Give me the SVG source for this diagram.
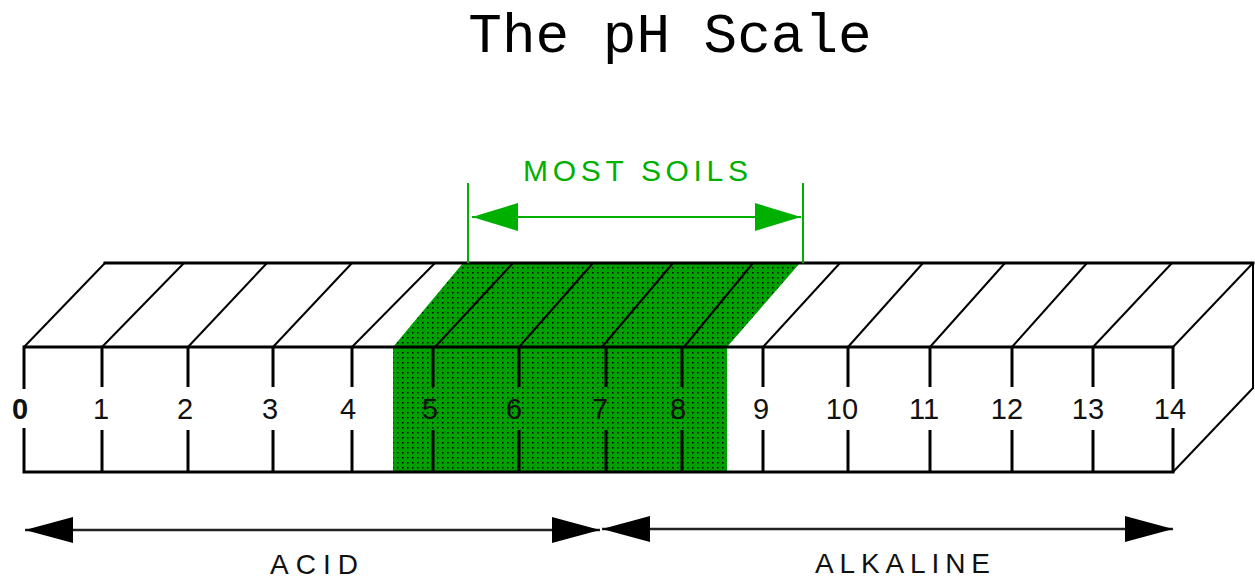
<svg xmlns="http://www.w3.org/2000/svg" width="1255" height="578" viewBox="0 0 1255 578">
  <defs>
    <pattern id="dots" width="5" height="5" patternUnits="userSpaceOnUse">
      <rect width="5" height="5" fill="#00a000"/>
      <rect x="2" y="2" width="1.5" height="1.5" fill="#000"/>
    </pattern>
    <marker id="ah" viewBox="0 0 48 26" refX="48" refY="13" markerWidth="48" markerHeight="26" markerUnits="userSpaceOnUse" orient="auto-start-reverse">
      <path d="M0,0 L48,13 L0,26 z" fill="#000"/>
    </marker>
    <marker id="gah" viewBox="0 0 46 28" refX="46" refY="14" markerWidth="46" markerHeight="28" markerUnits="userSpaceOnUse" orient="auto-start-reverse">
      <path d="M0,0 L46,14 L0,28 z" fill="#00b000"/>
    </marker>
  </defs>
  <style>
    .edge { fill: none; stroke: #000; stroke-width: 3; stroke-linecap: square; }
    .diag { fill: none; stroke: #000; stroke-width: 2; }
    .tick { stroke: #000; stroke-width: 3; }
    .num { font-family: "Liberation Sans", Arial, sans-serif; font-size: 29px; fill: #111; text-anchor: middle; }
    .lbl { font-family: "Liberation Sans", Arial, sans-serif; font-size: 28px; fill: #111; }
    .gline { stroke: #00b000; stroke-width: 2; fill: none; }
    .arrow { stroke: #222; stroke-width: 2.5; fill: none; }
  </style>

  <rect width="1255" height="578" fill="#fff"/>

  <g id="title">
    <text x="670" y="52" font-family="'Liberation Mono', 'Courier New', monospace" font-size="56" text-anchor="middle" fill="#000">The pH Scale</text>
  </g>

  <g id="most-soils-band">
    <polygon points="393,347 463,263 800,263 727,347" fill="url(#dots)"/>
    <rect x="393" y="347" width="334" height="125" fill="url(#dots)"/>
  </g>

  <g id="scale-bar">
    <g class="diag">
      <line x1="24" y1="347" x2="105" y2="263"/>
      <line x1="102" y1="347" x2="184" y2="263"/>
      <line x1="188" y1="347" x2="267" y2="263"/>
      <line x1="273" y1="347" x2="352" y2="263"/>
      <line x1="352" y1="347" x2="435" y2="263"/>
      <line x1="435" y1="347" x2="513" y2="263"/>
      <line x1="519" y1="347" x2="593" y2="263"/>
      <line x1="602" y1="347" x2="673" y2="263"/>
      <line x1="684" y1="347" x2="753" y2="263"/>
      <line x1="763" y1="347" x2="840" y2="263"/>
      <line x1="848" y1="347" x2="923" y2="263"/>
      <line x1="930" y1="347" x2="1005" y2="263"/>
      <line x1="1012" y1="347" x2="1087" y2="263"/>
      <line x1="1093" y1="347" x2="1172" y2="263"/>
      <line x1="1173" y1="347" x2="1253" y2="263"/>
      <line x1="1173" y1="472" x2="1253" y2="388"/>
    </g>
    <line class="edge" x1="105" y1="263" x2="1253" y2="263"/>
    <line class="edge" x1="1253" y1="263" x2="1253" y2="388" style="stroke-width:2"/>
    <rect class="edge" x="24" y="347" width="1149" height="125"/>
    <g class="tick">
      <line x1="102" y1="347" x2="102" y2="387"/><line x1="102" y1="430" x2="102" y2="472"/>
      <line x1="188" y1="347" x2="188" y2="387"/><line x1="188" y1="430" x2="188" y2="472"/>
      <line x1="273" y1="347" x2="273" y2="387"/><line x1="273" y1="430" x2="273" y2="472"/>
      <line x1="352" y1="347" x2="352" y2="387"/><line x1="352" y1="430" x2="352" y2="472"/>
      <line x1="433" y1="347" x2="433" y2="387"/><line x1="433" y1="430" x2="433" y2="472"/>
      <line x1="519" y1="347" x2="519" y2="387"/><line x1="519" y1="430" x2="519" y2="472"/>
      <line x1="606" y1="347" x2="606" y2="387"/><line x1="606" y1="430" x2="606" y2="472"/>
      <line x1="682" y1="347" x2="682" y2="387"/><line x1="682" y1="430" x2="682" y2="472"/>
      <line x1="763" y1="347" x2="763" y2="387"/><line x1="763" y1="430" x2="763" y2="472"/>
      <line x1="848" y1="347" x2="848" y2="387"/><line x1="848" y1="430" x2="848" y2="472"/>
      <line x1="930" y1="347" x2="930" y2="387"/><line x1="930" y1="430" x2="930" y2="472"/>
      <line x1="1012" y1="347" x2="1012" y2="387"/><line x1="1012" y1="430" x2="1012" y2="472"/>
      <line x1="1093" y1="347" x2="1093" y2="387"/><line x1="1093" y1="430" x2="1093" y2="472"/>
    </g>
    <rect x="18" y="389" width="12" height="39" fill="#fff"/>
    <rect x="1167" y="389" width="12" height="39" fill="#fff"/>
    <text class="num" x="20" y="419" font-weight="bold">0</text>
    <text class="num" x="101" y="419">1</text>
    <text class="num" x="185" y="419">2</text>
    <text class="num" x="270" y="419">3</text>
    <text class="num" x="348" y="419">4</text>
    <text class="num" x="430" y="419">5</text>
    <text class="num" x="514" y="419">6</text>
    <text class="num" x="600" y="419">7</text>
    <text class="num" x="678" y="419">8</text>
    <text class="num" x="761" y="419">9</text>
    <text class="num" x="842" y="419">10</text>
    <text class="num" x="924" y="419">11</text>
    <text class="num" x="1007" y="419">12</text>
    <text class="num" x="1088" y="419">13</text>
    <text class="num" x="1170" y="419">14</text>
  </g>

  <g id="most-soils-label">
    <text x="523" y="181" font-family="'Liberation Sans', Arial, sans-serif" font-size="30" fill="#00b000" textLength="225" lengthAdjust="spacing">MOST SOILS</text>
  </g>

  <g id="acid-label">
    <text class="lbl" x="270" y="574" textLength="88" lengthAdjust="spacing">ACID</text>
  </g>

  <g id="alkaline-label">
    <text class="lbl" x="815" y="573" textLength="175" lengthAdjust="spacing">ALKALINE</text>
  </g>

  <g id="connectors">
    <line class="gline" x1="468" y1="183" x2="468" y2="263"/>
    <line class="gline" x1="803" y1="183" x2="803" y2="263"/>
    <line class="gline" x1="472" y1="217" x2="801" y2="217" marker-start="url(#gah)" marker-end="url(#gah)"/>
    <line class="arrow" x1="25" y1="530" x2="600" y2="530" marker-start="url(#ah)" marker-end="url(#ah)"/>
    <line class="arrow" x1="602" y1="529" x2="1173" y2="529" marker-start="url(#ah)" marker-end="url(#ah)"/>
  </g>
</svg>
